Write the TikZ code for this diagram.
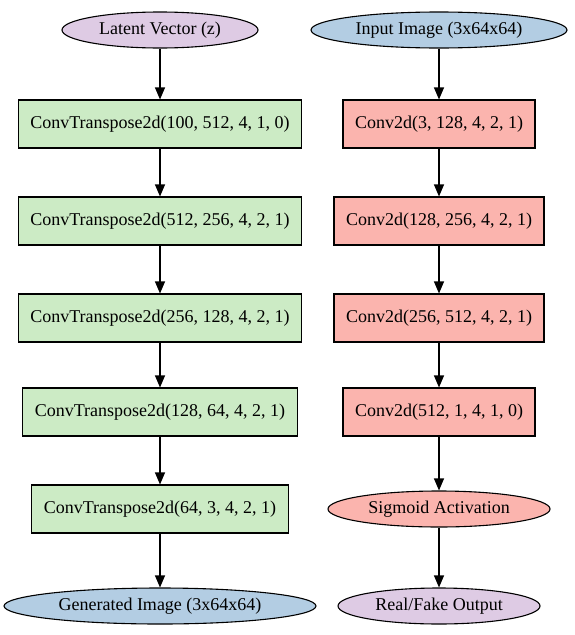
\documentclass[tikz,border=0pt]{standalone}
\usepackage{fontspec}
\setmainfont{Liberation Serif}
\usetikzlibrary{shapes.geometric,arrows.meta}

\definecolor{genfill}{HTML}{CCEBC5}
\definecolor{discfill}{HTML}{FBB4AE}
\definecolor{imgfill}{HTML}{B3CDE3}
\definecolor{vecfill}{HTML}{DECBE4}

\tikzset{every picture/.style={line width=1.1pt}}
\tikzset{
  layerbox/.style={draw, rectangle, minimum height=48pt, inner xsep=12pt, font=\fontsize{18}{20}\selectfont},
  ovalnode/.style={draw, ellipse, minimum height=36pt, inner sep=0pt, font=\fontsize{18}{20}\selectfont},
  flow/.style={-{Triangle[length=12pt,width=10pt]}}
}

\begin{document}
\begin{tikzpicture}[x=1pt,y=1pt,yscale=-1,xscale=1]
\useasboundingbox (0,0) rectangle (575,635);

%Generator column
\node [ovalnode, fill=vecfill, minimum width=196pt] (z) at (160,30) {Latent Vector (z)};
\node [layerbox, fill=genfill] (g1) at (160,124) {ConvTranspose2d(100, 512, 4, 1, 0)};
\node [layerbox, fill=genfill] (g2) at (160,221) {ConvTranspose2d(512, 256, 4, 2, 1)};
\node [layerbox, fill=genfill] (g3) at (160,318) {ConvTranspose2d(256, 128, 4, 2, 1)};
\node [layerbox, fill=genfill] (g4) at (160,412) {ConvTranspose2d(128, 64, 4, 2, 1)};
\node [layerbox, fill=genfill] (g5) at (160,509) {ConvTranspose2d(64, 3, 4, 2, 1)};
\node [ovalnode, fill=imgfill, minimum width=312pt] (gout) at (160,606) {Generated Image (3x64x64)};

%Discriminator column
\node [ovalnode, fill=imgfill, minimum width=256pt] (x) at (439,30) {Input Image (3x64x64)};
\node [layerbox, fill=discfill] (d1) at (439,124) {Conv2d(3, 128, 4, 2, 1)};
\node [layerbox, fill=discfill] (d2) at (439,221) {Conv2d(128, 256, 4, 2, 1)};
\node [layerbox, fill=discfill] (d3) at (439,318) {Conv2d(256, 512, 4, 2, 1)};
\node [layerbox, fill=discfill] (d4) at (439,412) {Conv2d(512, 1, 4, 1, 0)};
\node [ovalnode, fill=discfill, minimum width=222pt] (sig) at (439,509) {Sigmoid Activation};
\node [ovalnode, fill=vecfill, minimum width=202pt] (dout) at (439,606) {Real/Fake Output};

%Edges
\draw [flow] (z) -- (g1);
\draw [flow] (g1) -- (g2);
\draw [flow] (g2) -- (g3);
\draw [flow] (g3) -- (g4);
\draw [flow] (g4) -- (g5);
\draw [flow] (g5) -- (gout);
\draw [flow] (x) -- (d1);
\draw [flow] (d1) -- (d2);
\draw [flow] (d2) -- (d3);
\draw [flow] (d3) -- (d4);
\draw [flow] (d4) -- (sig);
\draw [flow] (sig) -- (dout);
\end{tikzpicture}
\end{document}
